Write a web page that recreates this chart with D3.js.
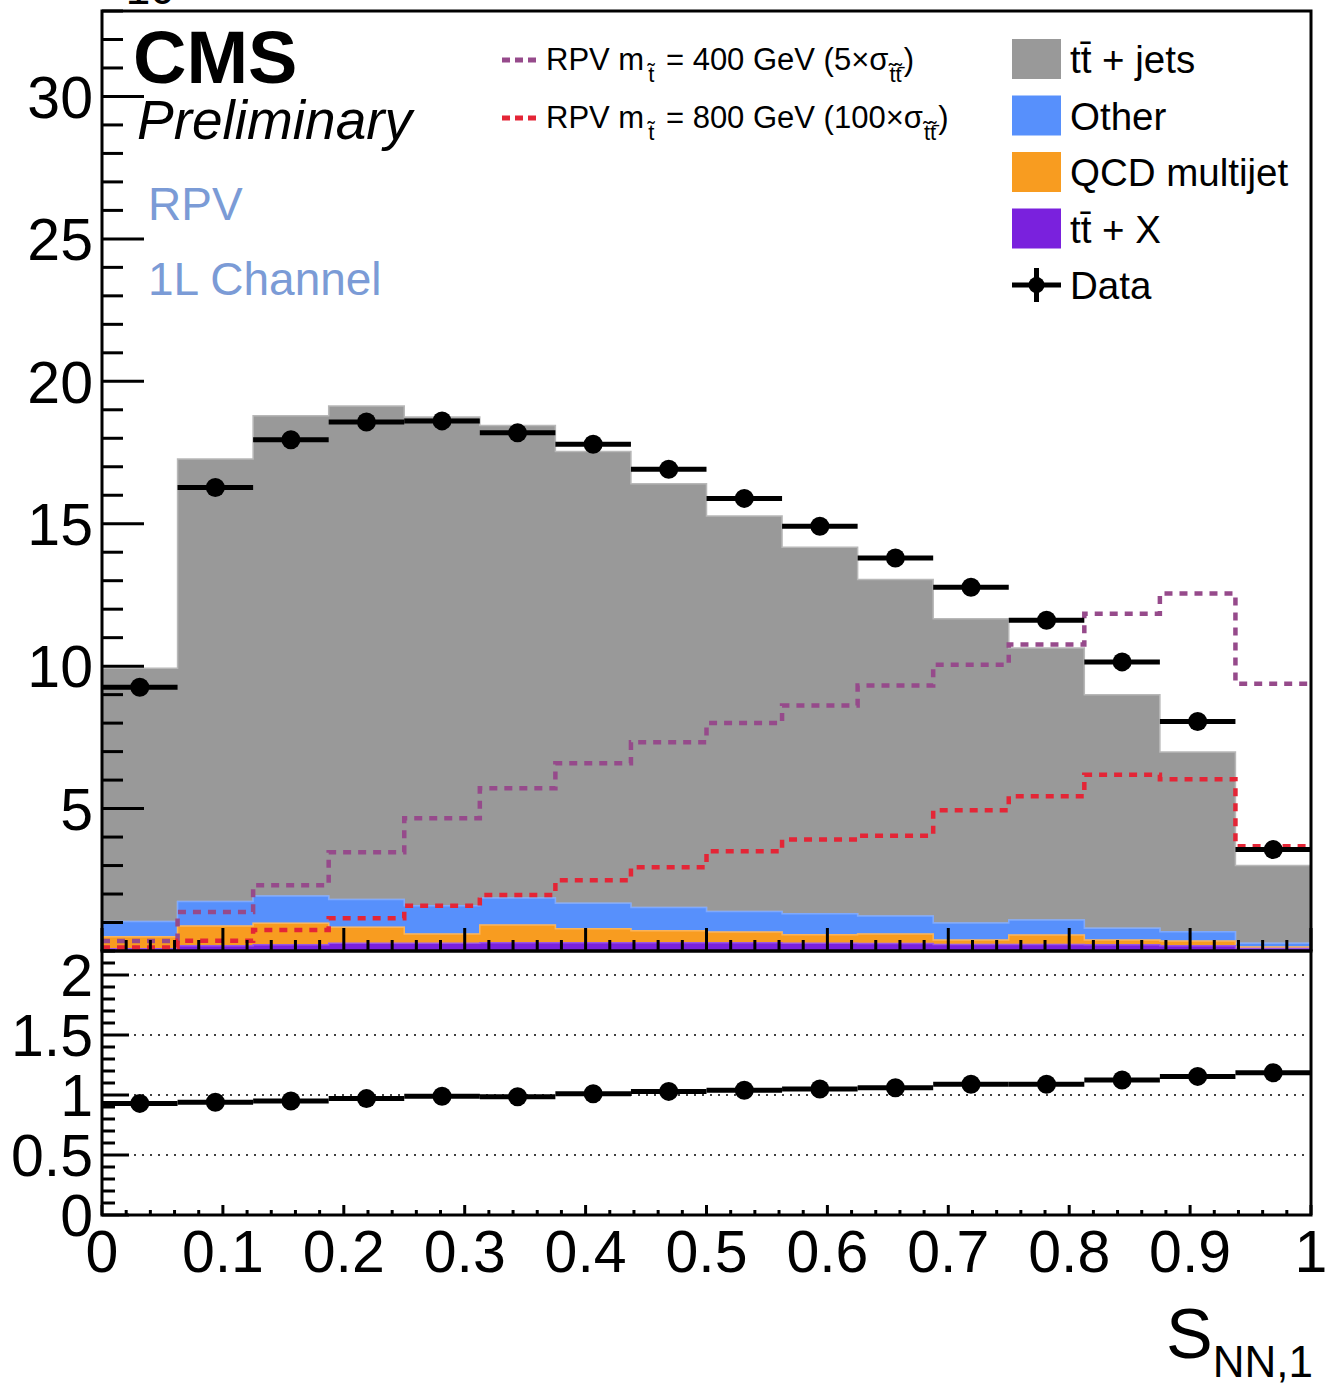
<!DOCTYPE html>
<html>
<head>
<meta charset="utf-8">
<script src="https://cdn.jsdelivr.net/npm/d3@7"></script>
<style>
  body { margin: 0; background: #fff; }
  svg { display: block; font-family: "Liberation Sans", Arial, sans-serif; }
</style>
</head>
<body>
<svg id="chart" width="1326" height="1386"></svg>
<script>
// 16 bins on S_NN,1 in [0,1]
const nBins = 16;

// stacked backgrounds (per component)
const ttX    = [0.08, 0.18, 0.22, 0.27, 0.27, 0.29, 0.29, 0.29, 0.29, 0.27, 0.26, 0.23, 0.23, 0.22, 0.18, 0.09];
const qcd    = [0.42, 0.70, 0.75, 0.56, 0.33, 0.62, 0.49, 0.42, 0.38, 0.30, 0.34, 0.16, 0.33, 0.17, 0.17, 0.05];
const other  = [0.54, 0.86, 0.96, 0.98, 0.99, 0.95, 0.90, 0.82, 0.72, 0.74, 0.63, 0.59, 0.53, 0.41, 0.33, 0.13];
const ttjets = [8.89, 15.53, 16.86, 17.32, 17.16, 16.59, 15.86, 14.87, 13.88, 12.86, 11.81, 10.68, 9.55, 8.20, 6.31, 2.73];

// data
const dataVals = [9.26, 16.27, 17.95, 18.57, 18.61, 18.19, 17.79, 16.91, 15.89, 14.91, 13.80, 12.77, 11.61, 10.15, 8.06, 3.56];
const ratioVals = [0.93, 0.94, 0.95, 0.97, 0.99, 0.985, 1.01, 1.03, 1.04, 1.05, 1.06, 1.09, 1.09, 1.125, 1.155, 1.185];

// signals
const rpv400 = [0.35, 1.37, 2.31, 3.47, 4.66, 5.71, 6.59, 7.33, 8.00, 8.62, 9.32, 10.05, 10.76, 11.84, 12.55, 9.38];
const rpv800 = [0.12, 0.36, 0.74, 1.15, 1.59, 1.97, 2.48, 2.94, 3.50, 3.91, 4.05, 4.94, 5.43, 6.19, 6.03, 3.68];

const xTicks = [0, 0.1, 0.2, 0.3, 0.4, 0.5, 0.6, 0.7, 0.8, 0.9, 1];
const xTickLabels = ["0", "0.1", "0.2", "0.3", "0.4", "0.5", "0.6", "0.7", "0.8", "0.9", "1"];
const yMainTicks = [5, 10, 15, 20, 25, 30];
const yRatioTicks = [0, 0.5, 1, 1.5, 2];
const yRatioLabels = ["0", "0.5", "1", "1.5", "2"];

const colors = {
  ttjets: "#999999", other: "#5790fc", qcd: "#f89c20", ttX: "#7a21dd",
  rpv400: "#964a8b", rpv800: "#e42536", txt: "#7b9bd6"
};
const edgeColors = { ttjets: "#b8b8b8", other: "#7fa9fd", qcd: "#fab45a", ttX: "#9a55e6" };

const svg = d3.select("#chart");
const padL = 102, padR = 1311, padT = 11, padMid = 951, padB = 1215;

const x = d3.scaleLinear().domain([0, 1]).range([padL, padR]);
const y = d3.scaleLinear().domain([0, 33]).range([padMid, padT]);
const yr = d3.scaleLinear().domain([0, 2.2]).range([padB, padMid]);

const binLo = i => i / nBins, binHi = i => (i + 1) / nBins;

// rows for stacking
const rows = d3.range(nBins).map(i => ({ ttX: ttX[i], qcd: qcd[i], other: other[i], ttjets: ttjets[i] }));
const stack = d3.stack().keys(["ttX", "qcd", "other", "ttjets"])(rows);

const area = d3.area()
  .x(d => x(d.x))
  .y0(d => y(d.y0))
  .y1(d => y(d.y1));

stack.slice().reverse().forEach(layer => {
  const pts = [];
  layer.forEach((s, i) => {
    pts.push({ x: binLo(i), y0: s[0], y1: s[1] });
    pts.push({ x: binHi(i), y0: s[0], y1: s[1] });
  });
  svg.append("path")
    .attr("d", area(pts))
    .attr("fill", colors[layer.key])
    .attr("stroke", edgeColors[layer.key])
    .attr("stroke-width", 1.5);
});

// signal step lines
function stepPts(vals) {
  const pts = [];
  vals.forEach((v, i) => { pts.push([binLo(i), v]); pts.push([binHi(i), v]); });
  return pts;
}
const line = d3.line().x(d => x(d[0])).y(d => y(d[1]));
[[rpv400, colors.rpv400], [rpv800, colors.rpv800]].forEach(([vals, c]) => {
  svg.append("path")
    .attr("d", line(stepPts(vals)))
    .attr("fill", "none")
    .attr("stroke", c)
    .attr("stroke-width", 4.5)
    .attr("stroke-dasharray", "8,7");
});

// data points
function drawPoints(vals, ys) {
  const g = svg.append("g");
  g.selectAll(".xerr").data(vals).enter().append("line")
    .attr("x1", (d, i) => x(binLo(i)))
    .attr("x2", (d, i) => x(binHi(i)))
    .attr("y1", d => ys(d)).attr("y2", d => ys(d))
    .attr("stroke", "#000").attr("stroke-width", 5);
  g.selectAll("circle").data(vals).enter().append("circle")
    .attr("cx", (d, i) => x((binLo(i) + binHi(i)) / 2))
    .attr("cy", d => ys(d))
    .attr("r", 9.5)
    .attr("fill", "#000");
}

// ratio grid
yRatioTicks.filter(t => t > 0).forEach(t => {
  svg.append("line")
    .attr("x1", padL).attr("x2", padR)
    .attr("y1", yr(t)).attr("y2", yr(t))
    .attr("stroke", "#000").attr("stroke-width", 1.5)
    .attr("stroke-dasharray", "2,6");
});

drawPoints(dataVals, y);
drawPoints(ratioVals, yr);

// ticks
const tickG = svg.append("g").attr("stroke", "#000").attr("stroke-width", 3);
function xTicksAt(yBase, major, minor) {
  d3.range(0, 51).forEach(k => {
    const v = k / 50;
    const len = k % 5 === 0 ? major : minor;
    tickG.append("line").attr("x1", x(v)).attr("x2", x(v))
      .attr("y1", yBase).attr("y2", yBase - len);
  });
}
xTicksAt(padMid, 23, 11);
xTicksAt(padB, 10, 5);

d3.range(1, 34).forEach(v => {
  const len = v % 5 === 0 ? 42 : 21;
  tickG.append("line").attr("x1", padL).attr("x2", padL + len)
    .attr("y1", y(v)).attr("y2", y(v));
});
d3.range(0, 23).forEach(k => {
  const v = k / 10;
  const len = k % 5 === 0 ? 27 : 13;
  tickG.append("line").attr("x1", padL).attr("x2", padL + len)
    .attr("y1", yr(v)).attr("y2", yr(v));
});

// frames
svg.append("rect").attr("x", padL).attr("y", padT).attr("width", padR - padL).attr("height", padMid - padT)
  .attr("fill", "none").attr("stroke", "#000").attr("stroke-width", 3);
svg.append("rect").attr("x", padL).attr("y", padMid).attr("width", padR - padL).attr("height", padB - padMid)
  .attr("fill", "none").attr("stroke", "#000").attr("stroke-width", 3);

// tick labels
const labFont = 59;
yMainTicks.forEach(t => {
  svg.append("text").attr("x", 93).attr("y", y(t)).attr("dy", "0.36em")
    .attr("text-anchor", "end").attr("font-size", labFont).text(t);
});
yRatioTicks.forEach((t, i) => {
  svg.append("text").attr("x", 93).attr("y", yr(t)).attr("dy", "0.36em")
    .attr("text-anchor", "end").attr("font-size", labFont).text(yRatioLabels[i]);
});
xTicks.forEach((t, i) => {
  svg.append("text").attr("x", x(t)).attr("y", 1272)
    .attr("text-anchor", "middle").attr("font-size", labFont).text(xTickLabels[i]);
});

// axis titles
const xt = svg.append("text").attr("x", 1313).attr("y", 1358).attr("text-anchor", "end").attr("font-size", 70);
xt.append("tspan").text("S");
xt.append("tspan").attr("font-size", 44).attr("dy", 19).text("NN,1");

svg.append("text").attr("x", 100).attr("y", 4).attr("font-size", 44).text("\u00d710\u00b3");

// CMS labels
svg.append("text").attr("x", 133).attr("y", 83).attr("font-size", 74).attr("font-weight", "bold").text("CMS");
svg.append("text").attr("x", 137).attr("y", 139).attr("font-size", 55).attr("font-style", "italic").text("Preliminary");
svg.append("text").attr("x", 148).attr("y", 220).attr("font-size", 46).attr("fill", colors.txt).text("RPV");
svg.append("text").attr("x", 148).attr("y", 295).attr("font-size", 46).attr("fill", colors.txt).text("1L Channel");

// signal legend
const sigLeg = [
  { c: colors.rpv400, mass: "400", scale: "5", yy: 60 },
  { c: colors.rpv800, mass: "800", scale: "100", yy: 118 }
];
sigLeg.forEach(s => {
  svg.append("line").attr("x1", 502).attr("x2", 540).attr("y1", s.yy).attr("y2", s.yy)
    .attr("stroke", s.c).attr("stroke-width", 5).attr("stroke-dasharray", "8,5");
  const t = svg.append("text").attr("x", 546).attr("y", s.yy + 10).attr("font-size", 31);
  t.append("tspan").text("RPV m");
  t.append("tspan").attr("font-size", 22).attr("dx", 4).attr("dy", 12).text("t\u0303");
  t.append("tspan").attr("dx", 3).attr("dy", -12).text(" = " + s.mass + " GeV (" + s.scale + "\u00d7\u03c3");
  t.append("tspan").attr("font-size", 22).attr("dx", 1).attr("dy", 12).text("t\u0303t\u0303\u0304");
  t.append("tspan").attr("dx", 2).attr("dy", -12).text(")");
});

// background legend
const bkgLeg = [
  { key: "ttjets", label: "tt\u0304 + jets" },
  { key: "other", label: "Other" },
  { key: "qcd", label: "QCD multijet" },
  { key: "ttX", label: "tt\u0304 + X" }
];
const legPitch = 56.5;
bkgLeg.forEach((l, i) => {
  const cy = 59 + i * legPitch;
  svg.append("rect").attr("x", 1012).attr("y", cy - 20).attr("width", 49).attr("height", 40)
    .attr("fill", colors[l.key]);
  svg.append("text").attr("x", 1070).attr("y", cy + 14).attr("font-size", 38.5).text(l.label);
});
const dataLegY = 59 + 4 * legPitch;
svg.append("line").attr("x1", 1012).attr("x2", 1061).attr("y1", dataLegY).attr("y2", dataLegY)
  .attr("stroke", "#000").attr("stroke-width", 5);
svg.append("line").attr("x1", 1036.5).attr("x2", 1036.5).attr("y1", dataLegY - 17).attr("y2", dataLegY + 17)
  .attr("stroke", "#000").attr("stroke-width", 5);
svg.append("circle").attr("cx", 1036.5).attr("cy", dataLegY).attr("r", 8).attr("fill", "#000");
svg.append("text").attr("x", 1070).attr("y", dataLegY + 14).attr("font-size", 38.5).text("Data");
</script>
</body>
</html>
